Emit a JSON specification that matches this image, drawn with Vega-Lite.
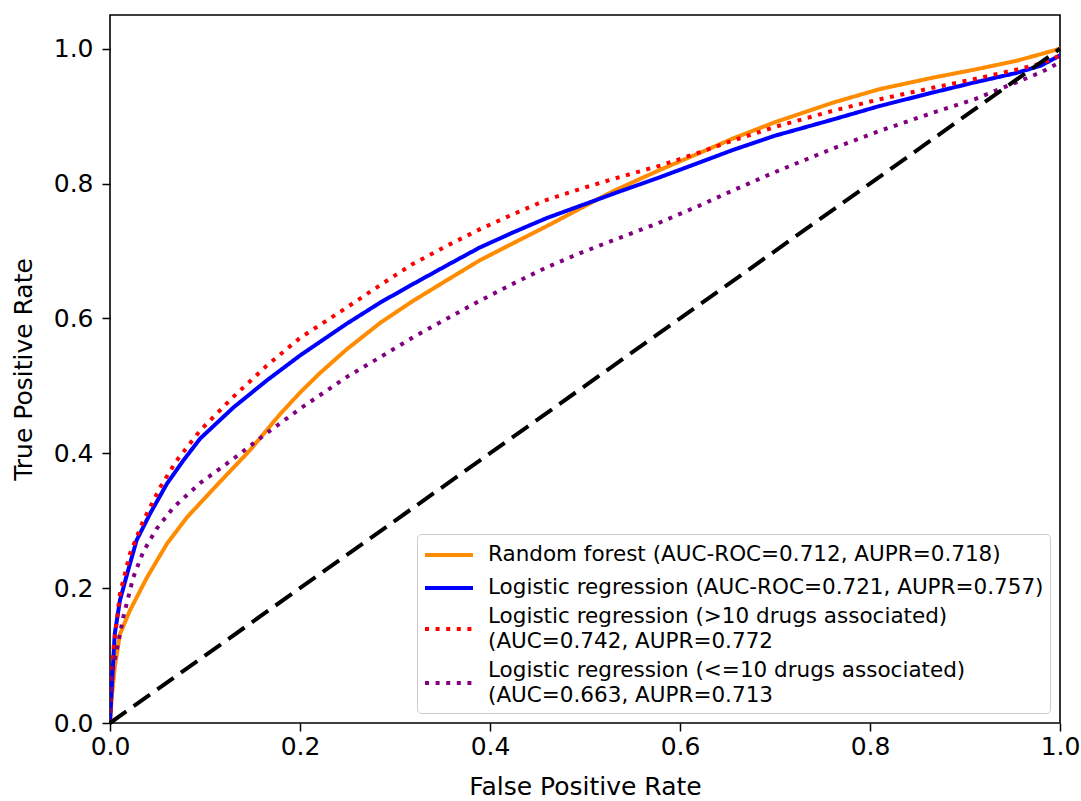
{
  "$schema": "https://vega.github.io/schema/vega-lite/v6.json",
  "width": 950,
  "height": 708,
  "autosize": {"type": "none"},
  "padding": {"left": 110, "top": 15, "right": 21, "bottom": 78},
  "background": "white",
  "config": {
    "font": "DejaVu Sans",
    "view": {"stroke": "black", "strokeWidth": 1.6},
    "axis": {
      "domain": false,
      "grid": false,
      "tickColor": "black",
      "tickWidth": 1.5,
      "tickSize": 8,
      "labelFontSize": 25,
      "labelColor": "black",
      "labelFont": "DejaVu Sans",
      "titleFontSize": 25,
      "titleFontWeight": "normal",
      "titleColor": "black",
      "titleFont": "DejaVu Sans"
    },
    "legend": {
      "orient": "bottom-right",
      "offset": 10,
      "symbolType": "stroke",
      "symbolSize": 2304,
      "symbolStrokeWidth": 4,
      "labelFontSize": 21.5,
      "labelFont": "DejaVu Sans",
      "labelColor": "black",
      "labelOffset": 13,
      "labelLimit": 800,
      "strokeColor": "#cccccc",
      "fillColor": "white",
      "cornerRadius": 4,
      "padding": 6,
      "rowPadding": 7
    }
  },
  "datasets": {
    "roc": [
      {"model": "Random forest (AUC-ROC=0.712, AUPR=0.718)", "fpr": 0, "tpr": 0},
      {"model": "Random forest (AUC-ROC=0.712, AUPR=0.718)", "fpr": 0.002, "tpr": 0.04},
      {"model": "Random forest (AUC-ROC=0.712, AUPR=0.718)", "fpr": 0.005, "tpr": 0.083},
      {"model": "Random forest (AUC-ROC=0.712, AUPR=0.718)", "fpr": 0.0105, "tpr": 0.132},
      {"model": "Random forest (AUC-ROC=0.712, AUPR=0.718)", "fpr": 0.021, "tpr": 0.167},
      {"model": "Random forest (AUC-ROC=0.712, AUPR=0.718)", "fpr": 0.039, "tpr": 0.216},
      {"model": "Random forest (AUC-ROC=0.712, AUPR=0.718)", "fpr": 0.06, "tpr": 0.266},
      {"model": "Random forest (AUC-ROC=0.712, AUPR=0.718)", "fpr": 0.081, "tpr": 0.305},
      {"model": "Random forest (AUC-ROC=0.712, AUPR=0.718)", "fpr": 0.112, "tpr": 0.352},
      {"model": "Random forest (AUC-ROC=0.712, AUPR=0.718)", "fpr": 0.147, "tpr": 0.404},
      {"model": "Random forest (AUC-ROC=0.712, AUPR=0.718)", "fpr": 0.179, "tpr": 0.458},
      {"model": "Random forest (AUC-ROC=0.712, AUPR=0.718)", "fpr": 0.2, "tpr": 0.49},
      {"model": "Random forest (AUC-ROC=0.712, AUPR=0.718)", "fpr": 0.221, "tpr": 0.519},
      {"model": "Random forest (AUC-ROC=0.712, AUPR=0.718)", "fpr": 0.249, "tpr": 0.554},
      {"model": "Random forest (AUC-ROC=0.712, AUPR=0.718)", "fpr": 0.285, "tpr": 0.594},
      {"model": "Random forest (AUC-ROC=0.712, AUPR=0.718)", "fpr": 0.319, "tpr": 0.626},
      {"model": "Random forest (AUC-ROC=0.712, AUPR=0.718)", "fpr": 0.355, "tpr": 0.657},
      {"model": "Random forest (AUC-ROC=0.712, AUPR=0.718)", "fpr": 0.389, "tpr": 0.686},
      {"model": "Random forest (AUC-ROC=0.712, AUPR=0.718)", "fpr": 0.425, "tpr": 0.712},
      {"model": "Random forest (AUC-ROC=0.712, AUPR=0.718)", "fpr": 0.46, "tpr": 0.737},
      {"model": "Random forest (AUC-ROC=0.712, AUPR=0.718)", "fpr": 0.495, "tpr": 0.763},
      {"model": "Random forest (AUC-ROC=0.712, AUPR=0.718)", "fpr": 0.53, "tpr": 0.789},
      {"model": "Random forest (AUC-ROC=0.712, AUPR=0.718)", "fpr": 0.58, "tpr": 0.821},
      {"model": "Random forest (AUC-ROC=0.712, AUPR=0.718)", "fpr": 0.62, "tpr": 0.845},
      {"model": "Random forest (AUC-ROC=0.712, AUPR=0.718)", "fpr": 0.656, "tpr": 0.867},
      {"model": "Random forest (AUC-ROC=0.712, AUPR=0.718)", "fpr": 0.7, "tpr": 0.891},
      {"model": "Random forest (AUC-ROC=0.712, AUPR=0.718)", "fpr": 0.761, "tpr": 0.92},
      {"model": "Random forest (AUC-ROC=0.712, AUPR=0.718)", "fpr": 0.81, "tpr": 0.94},
      {"model": "Random forest (AUC-ROC=0.712, AUPR=0.718)", "fpr": 0.866, "tpr": 0.957},
      {"model": "Random forest (AUC-ROC=0.712, AUPR=0.718)", "fpr": 0.91, "tpr": 0.969},
      {"model": "Random forest (AUC-ROC=0.712, AUPR=0.718)", "fpr": 0.954, "tpr": 0.982},
      {"model": "Random forest (AUC-ROC=0.712, AUPR=0.718)", "fpr": 0.98, "tpr": 0.992},
      {"model": "Random forest (AUC-ROC=0.712, AUPR=0.718)", "fpr": 1, "tpr": 1},

      {"model": "Logistic regression (AUC-ROC=0.721, AUPR=0.757)", "fpr": 0, "tpr": 0},
      {"model": "Logistic regression (AUC-ROC=0.721, AUPR=0.757)", "fpr": 0.001, "tpr": 0.03},
      {"model": "Logistic regression (AUC-ROC=0.721, AUPR=0.757)", "fpr": 0.002, "tpr": 0.058},
      {"model": "Logistic regression (AUC-ROC=0.721, AUPR=0.757)", "fpr": 0.005, "tpr": 0.132},
      {"model": "Logistic regression (AUC-ROC=0.721, AUPR=0.757)", "fpr": 0.0105, "tpr": 0.182},
      {"model": "Logistic regression (AUC-ROC=0.721, AUPR=0.757)", "fpr": 0.018, "tpr": 0.221},
      {"model": "Logistic regression (AUC-ROC=0.721, AUPR=0.757)", "fpr": 0.028, "tpr": 0.271},
      {"model": "Logistic regression (AUC-ROC=0.721, AUPR=0.757)", "fpr": 0.042, "tpr": 0.31},
      {"model": "Logistic regression (AUC-ROC=0.721, AUPR=0.757)", "fpr": 0.06, "tpr": 0.355},
      {"model": "Logistic regression (AUC-ROC=0.721, AUPR=0.757)", "fpr": 0.077, "tpr": 0.389},
      {"model": "Logistic regression (AUC-ROC=0.721, AUPR=0.757)", "fpr": 0.095, "tpr": 0.422},
      {"model": "Logistic regression (AUC-ROC=0.721, AUPR=0.757)", "fpr": 0.13, "tpr": 0.468},
      {"model": "Logistic regression (AUC-ROC=0.721, AUPR=0.757)", "fpr": 0.165, "tpr": 0.508},
      {"model": "Logistic regression (AUC-ROC=0.721, AUPR=0.757)", "fpr": 0.2, "tpr": 0.545},
      {"model": "Logistic regression (AUC-ROC=0.721, AUPR=0.757)", "fpr": 0.249, "tpr": 0.592},
      {"model": "Logistic regression (AUC-ROC=0.721, AUPR=0.757)", "fpr": 0.285, "tpr": 0.624},
      {"model": "Logistic regression (AUC-ROC=0.721, AUPR=0.757)", "fpr": 0.319, "tpr": 0.651},
      {"model": "Logistic regression (AUC-ROC=0.721, AUPR=0.757)", "fpr": 0.355, "tpr": 0.679},
      {"model": "Logistic regression (AUC-ROC=0.721, AUPR=0.757)", "fpr": 0.389, "tpr": 0.705},
      {"model": "Logistic regression (AUC-ROC=0.721, AUPR=0.757)", "fpr": 0.425, "tpr": 0.728},
      {"model": "Logistic regression (AUC-ROC=0.721, AUPR=0.757)", "fpr": 0.46, "tpr": 0.749},
      {"model": "Logistic regression (AUC-ROC=0.721, AUPR=0.757)", "fpr": 0.495, "tpr": 0.767},
      {"model": "Logistic regression (AUC-ROC=0.721, AUPR=0.757)", "fpr": 0.53, "tpr": 0.785},
      {"model": "Logistic regression (AUC-ROC=0.721, AUPR=0.757)", "fpr": 0.58, "tpr": 0.81},
      {"model": "Logistic regression (AUC-ROC=0.721, AUPR=0.757)", "fpr": 0.62, "tpr": 0.831},
      {"model": "Logistic regression (AUC-ROC=0.721, AUPR=0.757)", "fpr": 0.656, "tpr": 0.85},
      {"model": "Logistic regression (AUC-ROC=0.721, AUPR=0.757)", "fpr": 0.7, "tpr": 0.871},
      {"model": "Logistic regression (AUC-ROC=0.721, AUPR=0.757)", "fpr": 0.761, "tpr": 0.895},
      {"model": "Logistic regression (AUC-ROC=0.721, AUPR=0.757)", "fpr": 0.81, "tpr": 0.915},
      {"model": "Logistic regression (AUC-ROC=0.721, AUPR=0.757)", "fpr": 0.866, "tpr": 0.935},
      {"model": "Logistic regression (AUC-ROC=0.721, AUPR=0.757)", "fpr": 0.91, "tpr": 0.95},
      {"model": "Logistic regression (AUC-ROC=0.721, AUPR=0.757)", "fpr": 0.954, "tpr": 0.964},
      {"model": "Logistic regression (AUC-ROC=0.721, AUPR=0.757)", "fpr": 0.98, "tpr": 0.975},
      {"model": "Logistic regression (AUC-ROC=0.721, AUPR=0.757)", "fpr": 1, "tpr": 0.99},

      {"model": "Logistic regression (>10 drugs associated)|(AUC=0.742, AUPR=0.772", "fpr": 0, "tpr": 0},
      {"model": "Logistic regression (>10 drugs associated)|(AUC=0.742, AUPR=0.772", "fpr": 0.001, "tpr": 0.05},
      {"model": "Logistic regression (>10 drugs associated)|(AUC=0.742, AUPR=0.772", "fpr": 0.0035, "tpr": 0.108},
      {"model": "Logistic regression (>10 drugs associated)|(AUC=0.742, AUPR=0.772", "fpr": 0.0105, "tpr": 0.192},
      {"model": "Logistic regression (>10 drugs associated)|(AUC=0.742, AUPR=0.772", "fpr": 0.021, "tpr": 0.251},
      {"model": "Logistic regression (>10 drugs associated)|(AUC=0.742, AUPR=0.772", "fpr": 0.035, "tpr": 0.3},
      {"model": "Logistic regression (>10 drugs associated)|(AUC=0.742, AUPR=0.772", "fpr": 0.053, "tpr": 0.35},
      {"model": "Logistic regression (>10 drugs associated)|(AUC=0.742, AUPR=0.772", "fpr": 0.07, "tpr": 0.389},
      {"model": "Logistic regression (>10 drugs associated)|(AUC=0.742, AUPR=0.772", "fpr": 0.095, "tpr": 0.434},
      {"model": "Logistic regression (>10 drugs associated)|(AUC=0.742, AUPR=0.772", "fpr": 0.13, "tpr": 0.484},
      {"model": "Logistic regression (>10 drugs associated)|(AUC=0.742, AUPR=0.772", "fpr": 0.165, "tpr": 0.53},
      {"model": "Logistic regression (>10 drugs associated)|(AUC=0.742, AUPR=0.772", "fpr": 0.2, "tpr": 0.571},
      {"model": "Logistic regression (>10 drugs associated)|(AUC=0.742, AUPR=0.772", "fpr": 0.249, "tpr": 0.616},
      {"model": "Logistic regression (>10 drugs associated)|(AUC=0.742, AUPR=0.772", "fpr": 0.285, "tpr": 0.65},
      {"model": "Logistic regression (>10 drugs associated)|(AUC=0.742, AUPR=0.772", "fpr": 0.319, "tpr": 0.681},
      {"model": "Logistic regression (>10 drugs associated)|(AUC=0.742, AUPR=0.772", "fpr": 0.355, "tpr": 0.708},
      {"model": "Logistic regression (>10 drugs associated)|(AUC=0.742, AUPR=0.772", "fpr": 0.389, "tpr": 0.732},
      {"model": "Logistic regression (>10 drugs associated)|(AUC=0.742, AUPR=0.772", "fpr": 0.425, "tpr": 0.755},
      {"model": "Logistic regression (>10 drugs associated)|(AUC=0.742, AUPR=0.772", "fpr": 0.46, "tpr": 0.776},
      {"model": "Logistic regression (>10 drugs associated)|(AUC=0.742, AUPR=0.772", "fpr": 0.495, "tpr": 0.792},
      {"model": "Logistic regression (>10 drugs associated)|(AUC=0.742, AUPR=0.772", "fpr": 0.53, "tpr": 0.807},
      {"model": "Logistic regression (>10 drugs associated)|(AUC=0.742, AUPR=0.772", "fpr": 0.58, "tpr": 0.827},
      {"model": "Logistic regression (>10 drugs associated)|(AUC=0.742, AUPR=0.772", "fpr": 0.62, "tpr": 0.846},
      {"model": "Logistic regression (>10 drugs associated)|(AUC=0.742, AUPR=0.772", "fpr": 0.656, "tpr": 0.864},
      {"model": "Logistic regression (>10 drugs associated)|(AUC=0.742, AUPR=0.772", "fpr": 0.7, "tpr": 0.884},
      {"model": "Logistic regression (>10 drugs associated)|(AUC=0.742, AUPR=0.772", "fpr": 0.761, "tpr": 0.908},
      {"model": "Logistic regression (>10 drugs associated)|(AUC=0.742, AUPR=0.772", "fpr": 0.81, "tpr": 0.925},
      {"model": "Logistic regression (>10 drugs associated)|(AUC=0.742, AUPR=0.772", "fpr": 0.866, "tpr": 0.942},
      {"model": "Logistic regression (>10 drugs associated)|(AUC=0.742, AUPR=0.772", "fpr": 0.91, "tpr": 0.955},
      {"model": "Logistic regression (>10 drugs associated)|(AUC=0.742, AUPR=0.772", "fpr": 0.954, "tpr": 0.969},
      {"model": "Logistic regression (>10 drugs associated)|(AUC=0.742, AUPR=0.772", "fpr": 0.98, "tpr": 0.978},
      {"model": "Logistic regression (>10 drugs associated)|(AUC=0.742, AUPR=0.772", "fpr": 1, "tpr": 0.99},

      {"model": "Logistic regression (<=10 drugs associated)|(AUC=0.663, AUPR=0.713", "fpr": 0, "tpr": 0},
      {"model": "Logistic regression (<=10 drugs associated)|(AUC=0.663, AUPR=0.713", "fpr": 0.001, "tpr": 0.04},
      {"model": "Logistic regression (<=10 drugs associated)|(AUC=0.663, AUPR=0.713", "fpr": 0.0035, "tpr": 0.083},
      {"model": "Logistic regression (<=10 drugs associated)|(AUC=0.663, AUPR=0.713", "fpr": 0.014, "tpr": 0.157},
      {"model": "Logistic regression (<=10 drugs associated)|(AUC=0.663, AUPR=0.713", "fpr": 0.0245, "tpr": 0.216},
      {"model": "Logistic regression (<=10 drugs associated)|(AUC=0.663, AUPR=0.713", "fpr": 0.035, "tpr": 0.254},
      {"model": "Logistic regression (<=10 drugs associated)|(AUC=0.663, AUPR=0.713", "fpr": 0.049, "tpr": 0.288},
      {"model": "Logistic regression (<=10 drugs associated)|(AUC=0.663, AUPR=0.713", "fpr": 0.067, "tpr": 0.32},
      {"model": "Logistic regression (<=10 drugs associated)|(AUC=0.663, AUPR=0.713", "fpr": 0.095, "tpr": 0.356},
      {"model": "Logistic regression (<=10 drugs associated)|(AUC=0.663, AUPR=0.713", "fpr": 0.13, "tpr": 0.392},
      {"model": "Logistic regression (<=10 drugs associated)|(AUC=0.663, AUPR=0.713", "fpr": 0.165, "tpr": 0.43},
      {"model": "Logistic regression (<=10 drugs associated)|(AUC=0.663, AUPR=0.713", "fpr": 0.2, "tpr": 0.466},
      {"model": "Logistic regression (<=10 drugs associated)|(AUC=0.663, AUPR=0.713", "fpr": 0.249, "tpr": 0.513},
      {"model": "Logistic regression (<=10 drugs associated)|(AUC=0.663, AUPR=0.713", "fpr": 0.285, "tpr": 0.543},
      {"model": "Logistic regression (<=10 drugs associated)|(AUC=0.663, AUPR=0.713", "fpr": 0.319, "tpr": 0.572},
      {"model": "Logistic regression (<=10 drugs associated)|(AUC=0.663, AUPR=0.713", "fpr": 0.355, "tpr": 0.6},
      {"model": "Logistic regression (<=10 drugs associated)|(AUC=0.663, AUPR=0.713", "fpr": 0.389, "tpr": 0.626},
      {"model": "Logistic regression (<=10 drugs associated)|(AUC=0.663, AUPR=0.713", "fpr": 0.425, "tpr": 0.652},
      {"model": "Logistic regression (<=10 drugs associated)|(AUC=0.663, AUPR=0.713", "fpr": 0.46, "tpr": 0.676},
      {"model": "Logistic regression (<=10 drugs associated)|(AUC=0.663, AUPR=0.713", "fpr": 0.495, "tpr": 0.697},
      {"model": "Logistic regression (<=10 drugs associated)|(AUC=0.663, AUPR=0.713", "fpr": 0.53, "tpr": 0.716},
      {"model": "Logistic regression (<=10 drugs associated)|(AUC=0.663, AUPR=0.713", "fpr": 0.58, "tpr": 0.743},
      {"model": "Logistic regression (<=10 drugs associated)|(AUC=0.663, AUPR=0.713", "fpr": 0.62, "tpr": 0.767},
      {"model": "Logistic regression (<=10 drugs associated)|(AUC=0.663, AUPR=0.713", "fpr": 0.656, "tpr": 0.79},
      {"model": "Logistic regression (<=10 drugs associated)|(AUC=0.663, AUPR=0.713", "fpr": 0.7, "tpr": 0.817},
      {"model": "Logistic regression (<=10 drugs associated)|(AUC=0.663, AUPR=0.713", "fpr": 0.761, "tpr": 0.852},
      {"model": "Logistic regression (<=10 drugs associated)|(AUC=0.663, AUPR=0.713", "fpr": 0.81, "tpr": 0.878},
      {"model": "Logistic regression (<=10 drugs associated)|(AUC=0.663, AUPR=0.713", "fpr": 0.866, "tpr": 0.905},
      {"model": "Logistic regression (<=10 drugs associated)|(AUC=0.663, AUPR=0.713", "fpr": 0.91, "tpr": 0.925},
      {"model": "Logistic regression (<=10 drugs associated)|(AUC=0.663, AUPR=0.713", "fpr": 0.954, "tpr": 0.95},
      {"model": "Logistic regression (<=10 drugs associated)|(AUC=0.663, AUPR=0.713", "fpr": 0.98, "tpr": 0.965},
      {"model": "Logistic regression (<=10 drugs associated)|(AUC=0.663, AUPR=0.713", "fpr": 1, "tpr": 0.98}
    ],
    "diag": [
      {"fpr": 0, "tpr": 0},
      {"fpr": 1, "tpr": 1}
    ]
  },
  "layer": [
    {
      "data": {"name": "roc"},
      "mark": {"type": "line", "strokeWidth": 4, "clip": true},
      "encoding": {
        "x": {
          "field": "fpr", "type": "quantitative",
          "scale": {"domain": [0, 1], "nice": false, "zero": false},
          "axis": {"title": "False Positive Rate", "values": [0, 0.2, 0.4, 0.6, 0.8, 1.0], "format": ".1f", "labelFlush": false, "labelPadding": 3, "titlePadding": 15}
        },
        "y": {
          "field": "tpr", "type": "quantitative",
          "scale": {"domain": [0, 1.05], "nice": false, "zero": false},
          "axis": {"title": "True Positive Rate", "values": [0, 0.2, 0.4, 0.6, 0.8, 1.0], "format": ".1f", "labelFlush": false, "labelPadding": 9, "titlePadding": 17}
        },
        "color": {
          "field": "model", "type": "nominal",
          "scale": {
            "domain": [
              "Random forest (AUC-ROC=0.712, AUPR=0.718)",
              "Logistic regression (AUC-ROC=0.721, AUPR=0.757)",
              "Logistic regression (>10 drugs associated)|(AUC=0.742, AUPR=0.772",
              "Logistic regression (<=10 drugs associated)|(AUC=0.663, AUPR=0.713"
            ],
            "range": ["#ff8c00", "#0000ff", "#ff0000", "#800080"]
          },
          "legend": {
            "title": null,
            "labelExpr": "split(datum.label, '|')",
            "encode": {
              "symbols": {"update": {"y": {"value": 15}}},
              "labels": {
                "update": {
                  "y": {"value": 15},
                  "lineHeight": {"value": 25},
                  "dy": {"signal": "indexof(datum.label, '|') >= 0 ? -12 : 0"}
                }
              }
            }
          }
        },
        "strokeDash": {
          "field": "model", "type": "nominal",
          "scale": {
            "domain": [
              "Random forest (AUC-ROC=0.712, AUPR=0.718)",
              "Logistic regression (AUC-ROC=0.721, AUPR=0.757)",
              "Logistic regression (>10 drugs associated)|(AUC=0.742, AUPR=0.772",
              "Logistic regression (<=10 drugs associated)|(AUC=0.663, AUPR=0.713"
            ],
            "range": [[1, 0], [1, 0], [4, 6.6], [4, 6.6]]
          },
          "legend": {
            "title": null,
            "labelExpr": "split(datum.label, '|')",
            "encode": {
              "symbols": {"update": {"y": {"value": 15}}},
              "labels": {
                "update": {
                  "y": {"value": 15},
                  "lineHeight": {"value": 25},
                  "dy": {"signal": "indexof(datum.label, '|') >= 0 ? -12 : 0"}
                }
              }
            }
          }
        }
      }
    },
    {
      "data": {"name": "diag"},
      "mark": {"type": "line", "color": "black", "strokeWidth": 4, "strokeDash": [20, 9]},
      "encoding": {
        "x": {"field": "fpr", "type": "quantitative"},
        "y": {"field": "tpr", "type": "quantitative"}
      }
    }
  ]
}
